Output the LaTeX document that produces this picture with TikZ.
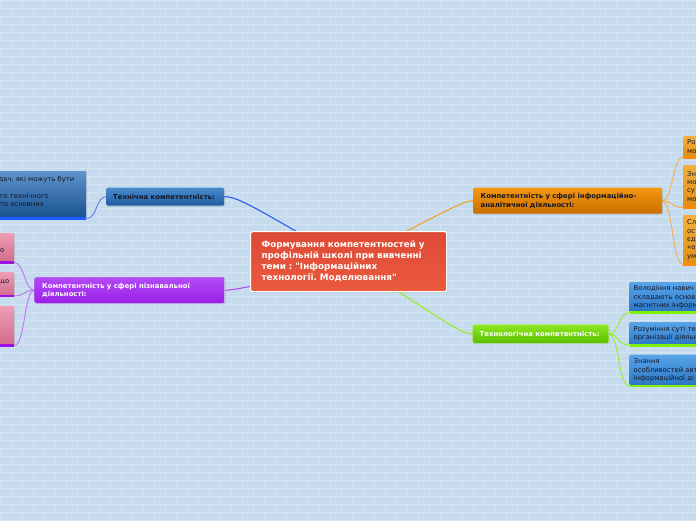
\documentclass[tikz,border=0pt]{standalone}
\usepackage{fontspec}
\setmainfont{DejaVu Sans}[Ligatures=TeXOff]
\usetikzlibrary{shadows}
\pgfdeclarelayer{bg}
\pgfdeclarelayer{edges}
\pgfsetlayers{bg,edges,main}
\frenchspacing
\definecolor{bgc}{HTML}{C7DBEE}
\definecolor{brickc}{HTML}{D3E3F2}
\definecolor{redtop}{HTML}{DE4A36}
\definecolor{redbot}{HTML}{EA5A3E}
\definecolor{bluetop}{HTML}{4A8ACB}
\definecolor{bluebot}{HTML}{1F5DA3}
\definecolor{dbluetop}{HTML}{5E94CC}
\definecolor{dbluebot}{HTML}{17508F}
\definecolor{purptop}{HTML}{B24BF5}
\definecolor{purpbot}{HTML}{9A1EE6}
\definecolor{pinktop}{HTML}{EE9DB4}
\definecolor{pinkbot}{HTML}{D26A8C}
\definecolor{orgtop}{HTML}{F4980E}
\definecolor{orgbot}{HTML}{C96E00}
\definecolor{lorgtop}{HTML}{F5AE3C}
\definecolor{lorgbot}{HTML}{DE8E14}
\definecolor{grntop}{HTML}{8CE81E}
\definecolor{grnbot}{HTML}{5CBE00}
\definecolor{rbtop}{HTML}{58A4E8}
\definecolor{rbbot}{HTML}{2A76C6}
\definecolor{lnblue}{HTML}{2A5EF0}
\definecolor{lnorg}{HTML}{F2A22A}
\definecolor{lngrn}{HTML}{94F026}
\definecolor{lnpurp}{HTML}{B050F0}
\definecolor{ulblue}{HTML}{1A5CFF}
\definecolor{ulpurp}{HTML}{9A10E0}
\definecolor{ulorg}{HTML}{FF8C00}
\definecolor{ulgrn}{HTML}{80F000}
\definecolor{dtext}{HTML}{141828}
\newcommand\fcent{\fontsize{8.8}{11}\selectfont\bfseries}
\newcommand\fsmb{\fontsize{6.9}{8.5}\selectfont\bfseries}
\newcommand\fsm{\fontsize{6.8}{8.4}\selectfont}
\tikzset{
  box/.style={anchor=north west, rectangle, rounded corners=2pt, align=left,
    inner ysep=0pt, drop shadow={opacity=0.22, shadow xshift=0.8pt, shadow yshift=-1.2pt}},
  brick/.style={brickc, line width=0.5pt},
  conn/.style={line width=1.1pt},
  sub/.style={line width=0.9pt},
  uline/.style={line width=2.2pt},
  frag/.style={anchor=base east, inner sep=0pt, text=dtext, font=\fsm}
}
\begin{document}
\begin{tikzpicture}[x=1pt,y=-1pt]
\useasboundingbox (0,0) rectangle (696,520);
\clip (0,0) rectangle (696,520);
\begin{pgfonlayer}{bg}
\fill[bgc] (0,0) rectangle (696,520);
\foreach \r in {0,...,65} { \draw[brick] (0,\r*8) -- (696,\r*8); }
\foreach \r in {0,...,64} {
  \pgfmathsetmacro\off{mod(\r,2)*11}
  \foreach \c in {0,...,32} { \draw[brick] (\c*22+\off,\r*8) -- ++(0,8); }
}
\end{pgfonlayer}

% central
\node[box, draw=white, line width=1.2pt, top color=redtop, bottom color=redbot,
  minimum height=60pt, text width=174pt, inner xsep=11pt, text=white, font=\fcent]
  (central) at (250,231) {Формування компетентностей у\\профільній школі при вивченні\\теми : "Інформаційних\\технології. Моделювання"};

% technical
\node[box, top color=bluetop, bottom color=bluebot, minimum height=18pt, text width=104pt,
  inner xsep=7pt, text=dtext, font=\fsmb] (tech) at (106,187.5) {Технічна компетентність:};
\node[box, rounded corners=0pt, top color=dbluetop, bottom color=dbluebot, minimum height=47pt,
  minimum width=146pt] (tbox) at (-60,171) {};
\draw[uline, ulblue] (tbox.south west) -- (tbox.south east);
\node[frag, text=dtext] (tl1) at (74.5,181.5) {дач, які можуть бути};
\node[frag, text=dtext] (tl2) at (49,198) {го технічного};
\node[frag, text=dtext] (tl3) at (44,206) {то основних};

% cognitive
\node[box, draw=purptop!70!white, line width=0.4pt, top color=purptop, bottom color=purpbot,
  minimum height=26pt, text width=175pt, inner xsep=7.5pt, text=white, font=\fsmb]
  (cog) at (34.5,277) {Компетентність у сфері пізнавальної\\діяльності:};
\node[box, rounded corners=0pt, top color=pinktop, bottom color=pinkbot, minimum width=54pt, minimum height=29pt] (p1) at (-40,233) {};
\node[box, rounded corners=0pt, top color=pinktop, bottom color=pinkbot, minimum width=54pt, minimum height=23pt] (p2) at (-40,272.5) {};
\node[box, rounded corners=0pt, top color=pinktop, bottom color=pinkbot, minimum width=54pt, minimum height=39pt] (p3) at (-40,306) {};
\draw[uline, ulpurp] (p1.south west) -- (p1.south east);
\draw[uline, ulpurp] (p2.south west) -- (p2.south east);
\draw[uline, ulpurp] (p3.south west) -- (p3.south east);
\node[frag] (p1t) at (4.5,252) {о};
\node[frag] (p2t) at (9.5,283.5) {що};

% information-analytical
\node[box, top color=orgtop, bottom color=orgbot, minimum height=26pt, text width=174pt,
  inner xsep=7.5pt, text=dtext, font=\fsmb] (info) at (473,187.5)
  {Компетентність у сфері інформаційно-\\аналітичної діяльності:};
\node[box, rounded corners=1pt, top color=lorgtop, bottom color=lorgbot, minimum height=21pt,
  text width=36pt, inner xsep=4pt, text=dtext, font=\fsm] (o1) at (683,136) {Ро\\мо};
\node[box, rounded corners=1pt, top color=lorgtop, bottom color=lorgbot, minimum height=42pt,
  text width=36pt, inner xsep=4pt, text=dtext, font=\fsm] (o2) at (683,165) {Зн\\мо\\су\\мо};
\node[box, rounded corners=1pt, top color=lorgtop, bottom color=lorgbot, minimum height=49pt,
  text width=36pt, inner xsep=4pt, text=dtext, font=\fsm] (o3) at (683,215) {Сл\\ос\\єд\\«о\\ум};
\draw[uline, ulorg] (o1.south west) -- (o1.south east);
\draw[uline, ulorg] (o2.south west) -- (o2.south east);
\draw[uline, ulorg] (o3.south west) -- (o3.south east);

% technological
\node[box, draw=grntop!60!white, line width=0.4pt, top color=grntop, bottom color=grnbot,
  minimum height=18.5pt, text width=122pt, inner xsep=7pt, text=white, font=\fsmb]
  (techno) at (472.5,324.5) {Технологічна компетентність:};
\node[box, rounded corners=1pt, top color=rbtop, bottom color=rbbot, minimum height=30pt,
  text width=72pt, inner xsep=4pt, text=dtext, font=\fsm] (b1) at (629.5,282)
  {Володіння навич\\складають основ\\магнітних інформа};
\node[box, rounded corners=1pt, top color=rbtop, bottom color=rbbot, minimum height=23pt,
  text width=72pt, inner xsep=4pt, text=dtext, font=\fsm] (b2) at (629.5,322)
  {Розуміння суті те\\організації діяльн};
\node[box, rounded corners=1pt, top color=rbtop, bottom color=rbbot, minimum height=31pt,
  text width=72pt, inner xsep=4pt, text=dtext, font=\fsm] (b3) at (629.5,354.5)
  {Знання\\особливостей авт\\інформаційної ді};
\draw[uline, ulgrn] (b1.south west) -- (b1.south east);
\draw[uline, ulgrn] (b2.south west) -- (b2.south east);
\draw[uline, ulgrn] (b3.south west) -- (b3.south east);

% connectors
\begin{pgfonlayer}{edges}
\draw[conn, lnblue] (central.center) .. controls (262,212) and (238,196) .. (tech.east);
\draw[conn, lnorg] (central.center) .. controls (440,214) and (462,201) .. (info.west);
\draw[conn, lngrn] (central.center) .. controls (425,306) and (458,334) .. (techno.west);
\draw[conn, lnpurp] (central.center) .. controls (290,278) and (240,290) .. (cog.east);
\draw[sub, lnblue!80!white] (tech.west) .. controls (96,197) and (97,219) .. (tbox.south east);
\draw[sub, lnpurp!80!white] (cog.west) .. controls (24,290) and (25,264) .. (p1.south east);
\draw[sub, lnpurp!80!white] (cog.west) .. controls (24,290) and (25,296) .. (p2.south east);
\draw[sub, lnpurp!80!white] (cog.west) .. controls (24,290) and (25,346) .. (p3.south east);
\draw[sub, lnorg!85!white] (info.east) .. controls (673,201) and (672,158) .. (o1.south west);
\draw[sub, lnorg!85!white] (info.east) .. controls (673,201) and (672,208) .. (o2.south west);
\draw[sub, lnorg!85!white] (info.east) .. controls (673,201) and (672,264) .. (o3.south west);
\draw[sub, lngrn] (techno.east) .. controls (619,334) and (618,313) .. (b1.south west);
\draw[sub, lngrn] (techno.east) .. controls (619,334) and (618,345) .. (b2.south west);
\draw[sub, lngrn] (techno.east) .. controls (619,334) and (618,386) .. (b3.south west);
\end{pgfonlayer}
\end{tikzpicture}
\end{document}
